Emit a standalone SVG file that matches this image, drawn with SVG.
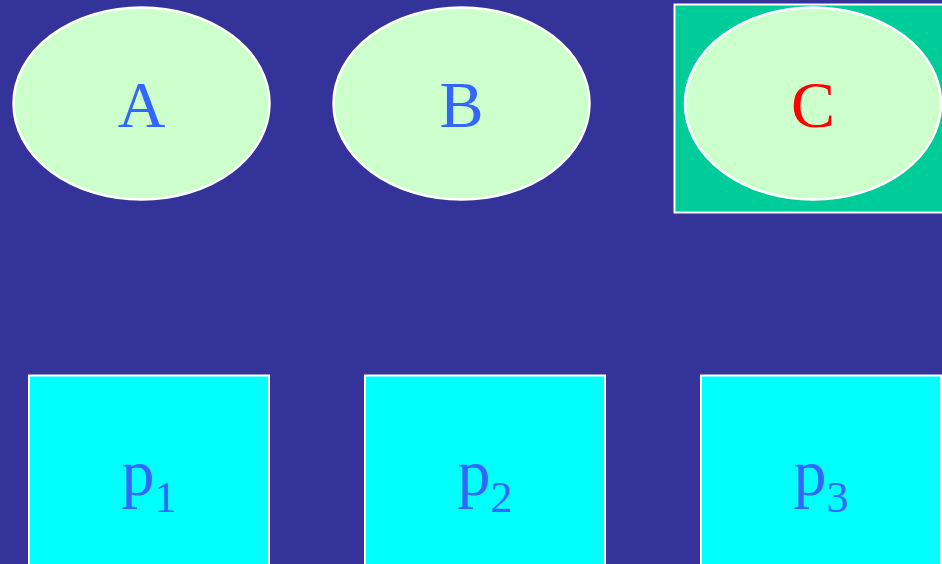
<svg xmlns="http://www.w3.org/2000/svg" width="942" height="564" viewBox="0 0 942 564">
<style>
.ell{fill:#CCFFCC;stroke:#FFFFFF;stroke-width:2.5}
.box{fill:#00FFFF;stroke:#FFFFFF;stroke-width:2}
.lbl{font-family:'Liberation Serif',Tinos,'Times New Roman',Times,serif;font-size:66px;fill:#3366FF;text-anchor:middle}
.sub{font-size:44px}
</style>
<rect x="0" y="0" width="942" height="564" fill="#333399"/>
<g id="A">
<ellipse class="ell" cx="141.5" cy="103.5" rx="128" ry="96"/>
<text class="lbl" x="141.5" y="127" font-family="Liberation Serif">A</text>
</g>
<g id="B">
<ellipse class="ell" cx="461.5" cy="103.5" rx="128" ry="96"/>
<text class="lbl" x="461.5" y="127" font-family="Liberation Serif">B</text>
</g>
<g id="C">
<rect x="674.5" y="4.5" width="280" height="208" fill="#00CC99" stroke="#FFFFFF" stroke-width="2"/>
<ellipse class="ell" cx="813" cy="103.5" rx="128" ry="96"/>
<text class="lbl" x="813" y="127" style="fill:#FF0000">C</text>
</g>
<g id="p1">
<rect class="box" x="29" y="375.5" width="240" height="200"/>
<text class="lbl" x="149" y="495">p<tspan class="sub" dy="17">1</tspan></text>
</g>
<g id="p2">
<rect class="box" x="365" y="375.5" width="240" height="200"/>
<text class="lbl" x="485" y="495">p<tspan class="sub" dy="17">2</tspan></text>
</g>
<g id="p3">
<rect class="box" x="701" y="375.5" width="240" height="200"/>
<text class="lbl" x="821" y="495">p<tspan class="sub" dy="17">3</tspan></text>
</g>
<g id="connectors"></g>
</svg>
